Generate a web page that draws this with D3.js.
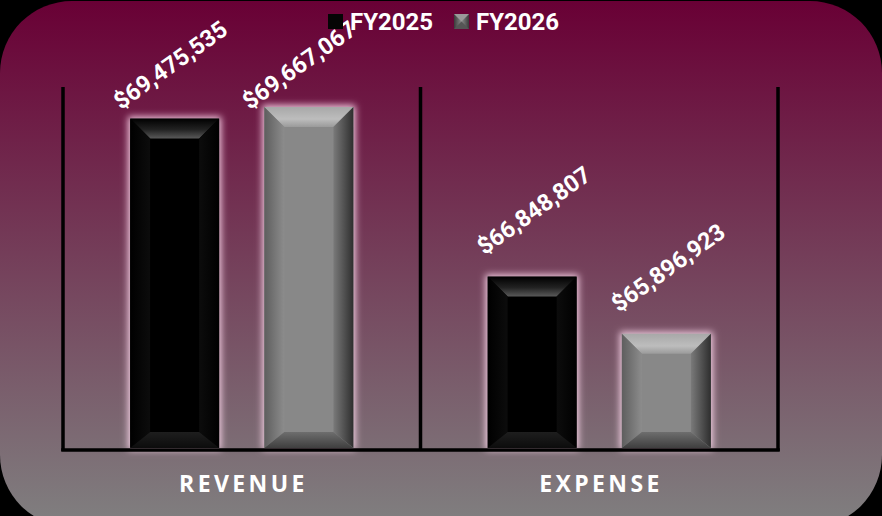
<!DOCTYPE html>
<html lang="en">
  <head>
    <meta charset="UTF-8" />
    <title>Revenue vs Expense</title>
    <script src="https://d3js.org/d3.v7.min.js"></script>
    <style>
      html, body { margin: 0; padding: 0; background: #000; }
      svg { display: block; }
      .val { font-family: Roboto, "Noto Sans", sans-serif; font-weight: 700; font-size: 23.5px; fill: #fff; }
      .cat { font-family: "Open Sans", Lato, sans-serif; font-weight: 700; font-size: 23px; fill: #fff; letter-spacing: 3.4px; }
      .leg { font-family: Roboto, "Noto Sans", sans-serif; font-weight: 700; font-size: 24px; fill: #fff; }
    </style>
  </head>
  <body>
    <svg id="chart" width="882" height="516"></svg>
    <script>
      const width = 882;
      const height = 516;

      // data
      const categories = ["REVENUE", "EXPENSE"];
      const series = ["FY2025", "FY2026"];
      const fy2025 = [69475535, 66848807];
      const fy2026 = [69667067, 65896923];
      const yDomain = [64000000, 70000000];

      const svg = d3.select("#chart");
      const defs = svg.append("defs");

      // background gradient
      const bg = defs.append("linearGradient").attr("id", "bg").attr("x1", 0).attr("y1", 0).attr("x2", 0).attr("y2", 1);
      bg.append("stop").attr("offset", "0%").attr("stop-color", "#690035");
      bg.append("stop").attr("offset", "100%").attr("stop-color", "#808080");

      svg.append("rect")
        .attr("x", 0).attr("y", 1)
        .attr("width", width).attr("height", height + 10)
        .attr("rx", 72).attr("ry", 72)
        .attr("fill", "url(#bg)");

      // glow around bars
      const glow = defs.append("filter").attr("id", "glow")
        .attr("x", "-30%").attr("y", "-30%").attr("width", "160%").attr("height", "160%");
      glow.append("feMorphology").attr("in", "SourceAlpha").attr("operator", "dilate").attr("radius", 2).attr("result", "d");
      glow.append("feGaussianBlur").attr("in", "d").attr("stdDeviation", 3.5).attr("result", "b");
      glow.append("feFlood").attr("flood-color", "#ffd9ee").attr("flood-opacity", 0.9);
      glow.append("feComposite").attr("in2", "b").attr("operator", "in").attr("result", "g");
      const mg = glow.append("feMerge");
      mg.append("feMergeNode").attr("in", "g");
      mg.append("feMergeNode").attr("in", "SourceGraphic");

      // bevel gradients: [id, vertical?, stops]
      const grads = [
        ["k-top", true, [["0%", "#000"], ["55%", "#222"], ["100%", "#5a5a5a"]]],
        ["k-left", false, [["0%", "#000"], ["100%", "#0c0c0c"]]],
        ["k-right", false, [["0%", "#0c0c0c"], ["100%", "#000"]]],
        ["k-bot", true, [["0%", "#1e1e1e"], ["100%", "#0c0c0c"]]],
        ["g-top", true, [["0%", "#a8a8a8"], ["60%", "#bdbdbd"], ["100%", "#9a9a9a"]]],
        ["g-left", false, [["0%", "#5e5e5e"], ["100%", "#8c8c8c"]]],
        ["g-right", false, [["0%", "#7a7a7a"], ["100%", "#2e2e2e"]]],
        ["g-bot", true, [["0%", "#6e6e6e"], ["100%", "#3f3f3f"]]],
        ["leg-g", false, [["0%", "#3a3a3a"], ["50%", "#8a8a8a"], ["100%", "#3a3a3a"]]]
      ];
      grads.forEach(([id, vert, stops]) => {
        const g = defs.append("linearGradient").attr("id", id)
          .attr("x1", 0).attr("y1", 0).attr("x2", vert ? 0 : 1).attr("y2", vert ? 1 : 0);
        stops.forEach(s => g.append("stop").attr("offset", s[0]).attr("stop-color", s[1]));
      });

      const colors = { FY2025: { body: "#060606", key: "k" }, FY2026: { body: "#888888", key: "g" } };

      // scales
      const x0 = d3.scaleBand().domain(categories).range([63, 778]).padding(0);
      const x1 = d3.scaleBand().domain(series).range([0, x0.bandwidth()]).paddingInner(0.336).paddingOuter(0.5);
      const y = d3.scaleLinear().domain(yDomain).range([448, 87]);

      const rows = [];
      categories.forEach((c, i) => {
        rows.push({ cat: c, s: "FY2025", v: fy2025[i] });
        rows.push({ cat: c, s: "FY2026", v: fy2026[i] });
      });

      const bw = x1.bandwidth();
      const bev = 20, bevB = 16;

      const bars = svg.append("g").selectAll("g").data(rows).join("g")
        .attr("transform", d => `translate(${x0(d.cat) + x1(d.s)},${y(d.v)})`);

      bars.append("rect")
        .attr("width", bw)
        .attr("height", d => y(yDomain[0]) - y(d.v))
        .attr("fill", d => colors[d.s].body)
        .attr("filter", "url(#glow)");

      bars.each(function(d) {
        const h = y(yDomain[0]) - y(d.v);
        const k = colors[d.s].key;
        const g = d3.select(this);
        const pieces = [
          ["top", [[0, 0], [bw, 0], [bw - bev, bev], [bev, bev]]],
          ["left", [[0, 0], [bev, bev], [bev, h - bevB], [0, h]]],
          ["right", [[bw, 0], [bw, h], [bw - bev, h - bevB], [bw - bev, bev]]],
          ["bot", [[0, h], [bev, h - bevB], [bw - bev, h - bevB], [bw, h]]]
        ];
        pieces.forEach(([name, pts]) => {
          g.append("path")
            .attr("d", d3.line()(pts) + "Z")
            .attr("fill", `url(#${k}-${name})`);
        });
      });

      // value labels, pushed down when they would run out of the top
      const angle = 35.5;
      const minTop = 20;
      const labels = svg.append("g").selectAll("text").data(rows).join("text")
        .attr("class", "val")
        .text(d => "$" + d3.format(",")(d.v));
      labels.attr("transform", function(d) {
        const L = this.getComputedTextLength();
        const rad = angle * Math.PI / 180;
        let lx = x0(d.cat) + x1(d.s) - 3;
        let ly = y(d.v) - 21;
        const top = ly - L * Math.sin(rad) - 16 * Math.cos(rad);
        if (top < minTop) {
          const dy = minTop - top;
          ly += dy;
          lx -= dy * 0.48;
        }
        return `translate(${lx},${ly}) rotate(${-angle})`;
      });

      // frame lines
      const axis = svg.append("g").attr("stroke", "#000").attr("stroke-width", 3.5);
      const edges = categories.map(c => x0(c)).concat([x0.range()[1]]);
      axis.selectAll("line.v").data(edges).join("line")
        .attr("x1", d => d).attr("x2", d => d)
        .attr("y1", y(yDomain[1])).attr("y2", 451);
      axis.append("line")
        .attr("x1", x0.range()[0] - 1.75).attr("x2", x0.range()[1] + 1.75)
        .attr("y1", 450).attr("y2", 450);

      // category labels
      svg.append("g").selectAll("text").data(categories).join("text")
        .attr("class", "cat")
        .attr("x", d => x0(d) + x0.bandwidth() / 2 + 1.7)
        .attr("y", 492)
        .attr("text-anchor", "middle")
        .text(d => d);

      // legend
      const legX = [328, 454];
      const leg = svg.append("g").selectAll("g").data(series).join("g")
        .attr("transform", (d, i) => `translate(${legX[i]},14)`);
      leg.append("rect").attr("width", 15).attr("height", 15)
        .attr("fill", d => d === "FY2025" ? "#050505" : "url(#leg-g)");
      leg.filter(d => d === "FY2026").append("path")
        .attr("d", "M0,0L15,0L7.5,7.5Z").attr("fill", "#9a9a9a");
      leg.filter(d => d === "FY2026").append("path")
        .attr("d", "M0,15L15,15L7.5,7.5Z").attr("fill", "#555");
      leg.append("text").attr("class", "leg")
        .attr("x", 22)
        .attr("y", 16)
        .text(d => d);
    </script>
  </body>
</html>
